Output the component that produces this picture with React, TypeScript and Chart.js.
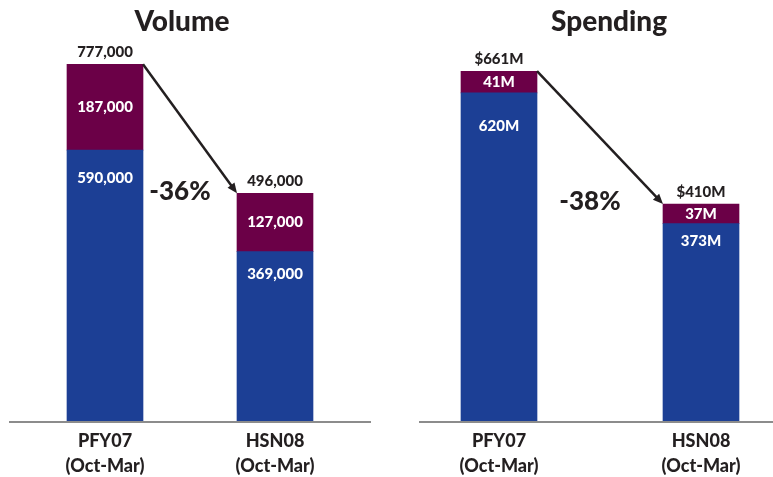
import React, { useEffect, useRef } from "react";
import { Chart, registerables } from "chart.js";

Chart.register(...registerables);

const CATEGORIES = [["PFY07", "(Oct-Mar)"], ["HSN08", "(Oct-Mar)"]];

const VOLUME_BASE = [590000, 369000];
const VOLUME_TOP = [187000, 127000];

const SPENDING_BASE = [620, 373];
const SPENDING_TOP = [41, 37];

const BLUE = "#1c3f95";
const PURPLE = "#6b0047";
const DARK = "#231f20";
const FONT = "Lato, 'Open Sans', sans-serif";

const fmtVolume = (v: number) => v.toLocaleString("en-US");
const fmtSpendInner = (v: number) => `${v}M`;
const fmtSpendTotal = (v: number) => `$${v}M`;

const panelPlugin = {
  id: "panel",
  afterDatasetsDraw(chart: any, _args: any, opts: any) {
    const ctx = chart.ctx;
    const area = chart.chartArea;
    const m0 = chart.getDatasetMeta(0);
    const m1 = chart.getDatasetMeta(1);
    const base: number[] = chart.data.datasets[0].data;
    const top: number[] = chart.data.datasets[1].data;
    const labels: string[][] = chart.data.labels;
    ctx.save();
    // baseline
    ctx.strokeStyle = "#8c8c8c";
    ctx.lineWidth = 2;
    ctx.beginPath();
    ctx.moveTo(opts.lineFrom, area.bottom + 1);
    ctx.lineTo(opts.lineTo, area.bottom + 1);
    ctx.stroke();
    // title
    ctx.fillStyle = DARK;
    ctx.font = `900 28px ${FONT}`;
    ctx.textAlign = "center";
    ctx.textBaseline = "middle";
    ctx.fillText(opts.title, opts.titleX, 22);
    // category labels
    ctx.font = `900 18px ${FONT}`;
    for (let i = 0; i < labels.length; i++) {
      const b = m0.data[i];
      ctx.fillText(labels[i][0], b.x, area.bottom + 20);
      ctx.fillText(labels[i][1], b.x, area.bottom + 45);
    }
    // labels
    ctx.font = `900 15px ${FONT}`;
    for (let i = 0; i < base.length; i++) {
      const b = m0.data[i];
      const t = m1.data[i];
      ctx.fillStyle = "#ffffff";
      ctx.fillText(opts.fmtInner(top[i]), t.x, (t.y + t.base) / 2);
      ctx.fillText(opts.fmtInner(base[i]), b.x, b.y + opts.blueOffsets[i]);
      ctx.fillStyle = DARK;
      ctx.fillText(opts.fmtTotal(base[i] + top[i]), t.x, t.y - 12);
    }
    // arrow
    const a = m1.data[0];
    const c = m1.data[1];
    const x1 = a.x + a.width / 2;
    const y1 = a.y;
    const x2 = c.x - c.width / 2;
    const y2 = c.y;
    const ang = Math.atan2(y2 - y1, x2 - x1);
    const hl = 11;
    ctx.strokeStyle = DARK;
    ctx.fillStyle = DARK;
    ctx.lineWidth = 2.5;
    ctx.beginPath();
    ctx.moveTo(x1, y1);
    ctx.lineTo(x2 - Math.cos(ang) * 6, y2 - Math.sin(ang) * 6);
    ctx.stroke();
    ctx.beginPath();
    ctx.moveTo(x2, y2);
    ctx.lineTo(x2 - hl * Math.cos(ang - 0.4), y2 - hl * Math.sin(ang - 0.4));
    ctx.lineTo(x2 - hl * Math.cos(ang + 0.4), y2 - hl * Math.sin(ang + 0.4));
    ctx.closePath();
    ctx.fill();
    // percent
    const t0 = base[0] + top[0];
    const t1 = base[1] + top[1];
    const pct = Math.round(((t1 - t0) / t0) * 100);
    ctx.font = `900 26px ${FONT}`;
    ctx.fillText(`${pct}%`, (x1 + x2) / 2 - 10, y2 - 2);
    ctx.restore();
  },
};

function Panel(props: {
  left: number;
  width: number;
  base: number[];
  top: number[];
  max: number;
  padding: { left: number; right: number };
  opts: any;
}) {
  const ref = useRef<HTMLCanvasElement>(null);
  useEffect(() => {
    if (!ref.current) return;
    const chart = new Chart(ref.current, {
      type: "bar",
      data: {
        labels: CATEGORIES as any,
        datasets: [
          { data: props.base, backgroundColor: BLUE, barThickness: 76, stack: "s" },
          { data: props.top, backgroundColor: PURPLE, barThickness: 76, stack: "s" },
        ],
      },
      options: {
        animation: false,
        responsive: false,
        maintainAspectRatio: false,
        layout: { padding: { top: 40, left: props.padding.left, right: props.padding.right, bottom: 56 } },
        plugins: {
          legend: { display: false },
          tooltip: { enabled: false },
          title: { display: false },
          panel: props.opts,
        } as any,
        scales: {
          x: { stacked: true, display: false },
          y: { stacked: true, display: false, min: 0, max: props.max },
        },
      },
      plugins: [panelPlugin],
    });
    return () => chart.destroy();
  }, []);
  return (
    <canvas
      ref={ref}
      width={props.width}
      height={477}
      style={{ position: "absolute", left: props.left, top: 0, width: props.width, height: 477 }}
    />
  );
}

export default function App() {
  return (
    <div
      style={{
        position: "absolute",
        left: 0,
        top: 0,
        width: 773,
        height: 477,
        overflow: "hidden",
        background: "#ffffff",
      }}
    >
      <Panel
        left={0}
        width={390}
        base={VOLUME_BASE}
        top={VOLUME_TOP}
        max={830000}
        padding={{ left: 20, right: 30 }}
        opts={{
          title: "Volume",
          titleX: 182,
          lineFrom: 9,
          lineTo: 371,
          blueOffsets: [28, 23],
          fmtInner: fmtVolume,
          fmtTotal: fmtVolume,
        }}
      />
      <Panel
        left={390}
        width={430}
        base={SPENDING_BASE}
        top={SPENDING_TOP}
        max={720}
        padding={{ left: 8, right: 18 }}
        opts={{
          title: "Spending",
          titleX: 219,
          lineFrom: 29,
          lineTo: 430,
          blueOffsets: [33, 18],
          fmtInner: fmtSpendInner,
          fmtTotal: fmtSpendTotal,
        }}
      />
    </div>
  );
}
